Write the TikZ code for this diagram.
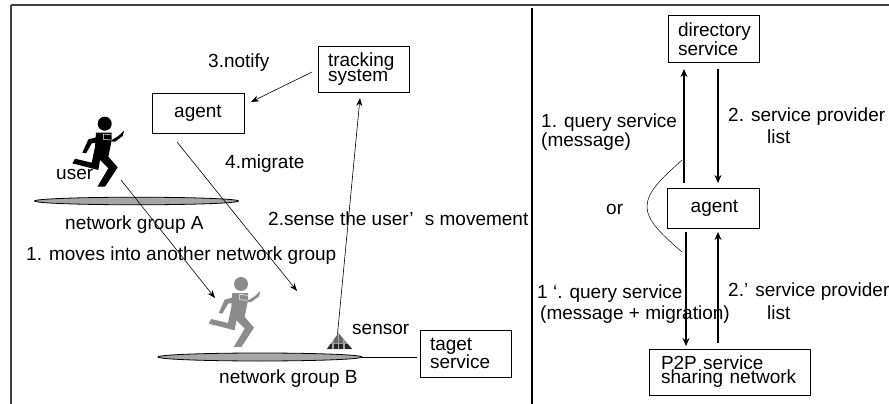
\documentclass[tikz,border=0pt]{standalone}
\usepackage{fontspec}
\setmainfont{Liberation Sans}
\usetikzlibrary{arrows.meta}
\AtBeginDocument{\hyphenpenalty=10000\relax}
\def\runner#1#2#3{
	\begin{scope}[shift={(#1, #2)}, scale=0.3333]
		\fill[#3] (0, 0) circle (21);
		\fill[#3] (-26, 27) -- (21, 27) -- (21, 49) -- (11, 99) -- (39, 131) -- (1, 189) -- (-22, 189) -- (11, 134) -- (-14, 109) -- (-19, 139) -- (-97, 119) -- (-89, 105) -- (-39, 117) -- (-29, 69) -- cycle;
		\fill[#3] (-26, 41) -- (-49, 47) -- (-67, 87) -- (-56, 89) -- (-39, 59) -- (-26, 57) -- cycle;
		\fill[#3] (21, 49) -- (41, 37) -- (58, 21) -- (54, 37) -- (31, 54) -- (21, 54) -- cycle;
		\draw[white, line width=0.5] (21, 34) -- (-4, 31) -- (-4, 47) -- (19, 49);
	\end{scope}
}
\tikzset{
	txt/.style={anchor=west, inner sep=0pt, align=left, font=\fontsize{19}{16}\selectfont},
	boxnode/.style={draw, line width=0.8pt, inner ysep=0pt, align=left, font=\fontsize{19}{16}\selectfont},
	thin arrow/.style={-{Stealth[length=8pt, width=6pt]}, line width=0.6pt},
	thick arrow/.style={-{Stealth[length=8pt, width=7pt]}, line width=1.4pt}
}
\begin{document}
\begin{tikzpicture}[x=1pt, y=-1pt]
		\useasboundingbox (0, 0) rectangle (889, 404);
		
		%%%%% frame %%%%%
		\draw[line width=1.2pt, color=black!75] (11, 5) -- (889, 5);
		\draw[line width=1.2pt, color=black!75] (11, 5) -- (11, 404);
		\draw[line width=2pt] (531.5, 8) -- (531.5, 404);
		
		%%%%% left part %%%%%
		\draw[line width=0.8pt, fill=black!35] (136.5, 201) ellipse (102 and 3.8);
		\draw[line width=0.8pt, fill=black!35] (260, 357) ellipse (102 and 4);
		
		\runner{104.7}{123.7}{black}
		\runner{241}{284}{black!45}
		
		\node[boxnode, minimum width=92, minimum height=40] (agentL) at (198, 113) {agent};
		\node[boxnode, minimum width=91, minimum height=46, text width=71, inner xsep=10] (tracking) at (363.5, 69) {tracking\\[-2pt]system};
		\node[boxnode, minimum width=91, minimum height=47, text width=71, inner xsep=10] (target) at (465.5, 353.5) {taget\\service};
		
		\node[txt] (notify) at (208, 63) {3.notify};
		\node[txt] (migrate) at (225, 164) {4.migrate};
		\node[txt] (user) at (56, 174) {user};
		\node[txt] (groupA) at (65, 225) {network group A};
		\node[txt] (sense) at (268, 218.5) {2.sense the user’\hspace{6pt} s movement};
		\node[txt] (moves) at (26, 255.5) {1. moves into another network group};
		\node[txt] (sensorlabel) at (352, 329) {sensor};
		\node[txt] (groupB) at (219, 379) {network group B};
		
		% sensor
		\begin{scope}
			\clip (338.5, 333) -- (352, 349) -- (327, 349) -- cycle;
			\fill[black!60] (325, 331) rectangle (354, 351);
			\fill[black!85] (325, 344) rectangle (354, 349);
			\foreach \px in {333, 338.5, 344}
				\draw[black!35, line width=1.5pt] (\px, 331) -- (\px, 351);
			\draw[black!40, line width=1pt] (325, 343) -- (354, 343);
		\end{scope}
		\coordinate (sensor) at (337.5, 334);
		\coordinate (groupBend) at (362, 357);
		\coordinate (targetend) at (417, 357);
		\draw[line width=0.7pt] (groupBend) -- (targetend);
		
		\coordinate (trackingin) at (360, 98);
		\coordinate (notifyfrom) at (312, 72);
		\coordinate (notifyto) at (251, 102);
		\coordinate (migratefrom) at (177, 142);
		\coordinate (migrateto) at (297, 291);
		\coordinate (movefrom) at (121, 180);
		\coordinate (moveto) at (215, 298);
		\draw[thin arrow] (sensor) -- (trackingin);
		\draw[thin arrow] (notifyfrom) -- (notifyto);
		\draw[thin arrow] (migratefrom) -- (migrateto);
		\draw[thin arrow] (movefrom) -- (moveto);
		
		%%%%% right part %%%%%
		\node[boxnode, minimum width=91, minimum height=47, text width=71, inner xsep=10] (directory) at (713.5, 39) {directory\\service};
		\node[boxnode, minimum width=92, minimum height=40] (agentR) at (713, 208) {\hspace{3pt}agent};
		\node[boxnode, minimum width=161, minimum height=46, text width=137, inner xsep=12] (sharing) at (729.5, 372) {P2P service\\[-2pt]sharing network};
		
		\node[txt] (query) at (541, 132) {1. query service\\(message)};
		\node[txt] (list) at (728, 117) {2. service provider};
		\node[txt] (listb) at (767, 137) {list};
		\node[txt] (or) at (606, 209) {or};
		\node[txt] (queryb) at (537, 294) {1 ‘. query service};
		\node[txt] (querybb) at (540, 315) {(message + migration)};
		\node[txt] (listc) at (728, 292) {2.’ service provider};
		\node[txt] (listd) at (767, 313) {list};
		
		\coordinate (upfrom) at (684, 183);
		\coordinate (upto) at (684, 69);
		\coordinate (downfrom) at (718, 69);
		\coordinate (downto) at (718, 183);
		\coordinate (msgfrom) at (686, 232);
		\coordinate (msgto) at (686, 346);
		\coordinate (backfrom) at (718, 343);
		\coordinate (backto) at (718, 232);
		\draw[thick arrow] (upfrom) -- (upto);
		\draw[thick arrow] (downfrom) -- (downto);
		\draw[thick arrow] (msgfrom) -- (msgto);
		\draw[thick arrow] (backfrom) -- (backto);
		
		\coordinate (orfrom) at (682, 160);
		\coordinate (orto) at (682, 252);
		\draw[line width=0.5pt] (orfrom) .. controls (660, 180) and (647, 192) .. (647, 207) .. controls (647, 220) and (660, 233) .. (orto);
		
	\end{tikzpicture}
\end{document}
